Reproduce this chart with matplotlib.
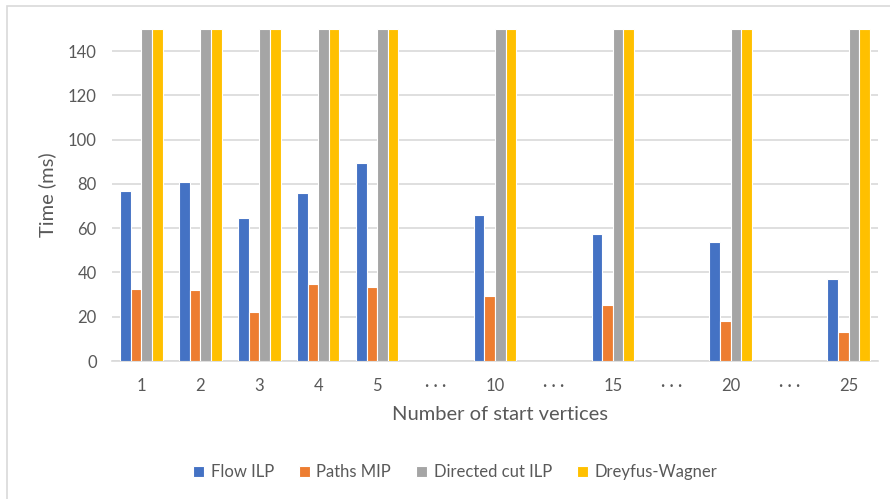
import numpy as np
import matplotlib
matplotlib.use('Agg')
import matplotlib.pyplot as plt
from matplotlib.patches import Rectangle

# Solver run times per number of start vertices (gaps shown as dots)
categories = ['1', '2', '3', '4', '5', '\u00b7 \u00b7 \u00b7', '10', '\u00b7 \u00b7 \u00b7',
              '15', '\u00b7 \u00b7 \u00b7', '20', '\u00b7 \u00b7 \u00b7', '25']
nan = np.nan
flow_ilp = [77, 81, 64.5, 76, 89.3, nan, 66, nan, 57.6, nan, 53.6, nan, 37]
paths_mip = [32.7, 32, 22, 34.6, 33.4, nan, 29.3, nan, 25.1, nan, 17.9, nan, 13]
directed_cut = [150, 150, 150, 150, 150, nan, 150, nan, 150, nan, 150, nan, 150]
dreyfus_wagner = [150, 150, 150, 150, 150, nan, 150, nan, 150, nan, 150, nan, 150]

series = [('Flow ILP', flow_ilp, '#4472C4'),
          ('Paths MIP', paths_mip, '#ED7D31'),
          ('Directed cut ILP', directed_cut, '#A5A5A5'),
          ('Dreyfus-Wagner', dreyfus_wagner, '#FFC000')]

plt.rcParams['font.family'] = ['Lato', 'DejaVu Sans']
txt = '#595959'
grid = '#d9d9d9'

W, H = 890, 499
fig = plt.figure(figsize=(W / 100, H / 100), dpi=100)
ax = fig.add_axes([112 / W, 1 - 361 / H, (878 - 112) / W, (361 - 29) / H])

x = np.arange(len(categories))
w = 0.18
for i, (name, vals, col) in enumerate(series):
    ax.bar(x + (i - 1.5) * w, vals, w, color=col, edgecolor='white',
           linewidth=0.8, label=name, zorder=3)

ax.set_xlim(-0.5, len(categories) - 0.5)
ax.set_ylim(0, 150)
ax.set_yticks(range(0, 141, 20))
ax.set_xticks(x)
ax.set_xticklabels(categories)
ax.tick_params(length=0, labelsize=12, labelcolor=txt)
ax.tick_params(axis='x', pad=12)
ax.tick_params(axis='y', pad=11)
ax.grid(axis='y', color=grid, linewidth=1.2, zorder=0)
for s in ['top', 'right', 'left']:
    ax.spines[s].set_visible(False)
ax.spines['bottom'].set_color(grid)
ax.spines['bottom'].set_linewidth(1.2)

ax.set_xlabel('Number of start vertices', fontsize=14.5, color=txt)
ax.xaxis.label.set_va('center')
ax.xaxis.set_label_coords(0.507, (361 - 415) / 332)
ax.set_ylabel('Time (ms)', fontsize=14.5, color=txt)
ax.yaxis.label.set_va('center')
ax.yaxis.set_label_coords((47 - 112) / 766, 0.5)

leg = fig.legend(loc='center', bbox_to_anchor=(455 / W, 1 - 472 / H), ncol=4,
                 frameon=False, fontsize=12, handlelength=0.65, handleheight=0.65,
                 handletextpad=0.4, columnspacing=1.5)
for t in leg.get_texts():
    t.set_color(txt)

# chart area border
fig.patches.append(Rectangle((7 / W, -0.1), 1.0, 1.1 - 6 / H, fill=False,
                             edgecolor=grid, linewidth=1.2,
                             transform=fig.transFigure, figure=fig))

fig.savefig('out.png', dpi=100)
